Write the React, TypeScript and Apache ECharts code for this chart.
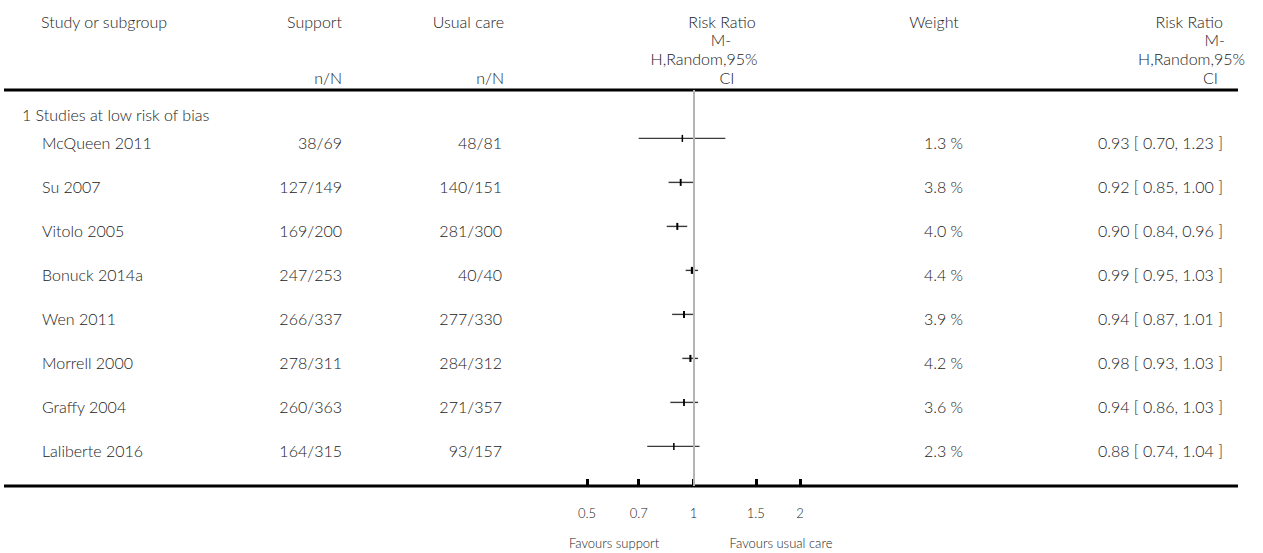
import React, { useEffect, useRef } from "react";
import * as echarts from "echarts";

const studies = ["McQueen 2011", "Su 2007", "Vitolo 2005", "Bonuck 2014a", "Wen 2011", "Morrell 2000", "Graffy 2004", "Laliberte 2016"];
const supportNN = ["38/69", "127/149", "169/200", "247/253", "266/337", "278/311", "260/363", "164/315"];
const usualNN = ["48/81", "140/151", "281/300", "40/40", "277/330", "284/312", "271/357", "93/157"];
const riskRatio = [0.93, 0.92, 0.90, 0.99, 0.94, 0.98, 0.94, 0.88];
const ciLow = [0.70, 0.85, 0.84, 0.95, 0.87, 0.93, 0.86, 0.74];
const ciHigh = [1.23, 1.00, 0.96, 1.03, 1.01, 1.03, 1.03, 1.04];
const weights = [1.3, 3.8, 4.0, 4.4, 3.9, 4.2, 3.6, 2.3];
const tickValues = [0.5, 0.7, 1, 1.5, 2];
const groupLabel = "1 Studies at low risk of bias";
const favoursLeft = "Favours support";
const favoursRight = "Favours usual care";

const FONT = "Lato";
const TXT = "#222222";

export default function App() {
  const ref = useRef<HTMLDivElement>(null);
  useEffect(() => {
    const chart = echarts.init(ref.current!, null, { renderer: "svg" });
    const t = (text: string, x: number, y: number, align: string, size = 16) => ({
      type: "text",
      x,
      y,
      style: { text, fill: TXT, font: `300 ${size}px ${FONT}`, textAlign: align, textVerticalAlign: "middle" },
    });
    const rowData = studies.map((_, i) => [riskRatio[i], i, ciLow[i], ciHigh[i]]);
    const option: any = {
      animation: false,
      backgroundColor: "#ffffff",
      grid: { left: 587, right: 463, top: 90, bottom: 67 },
      xAxis: {
        type: "log",
        logBase: 10,
        min: 0.5,
        max: 2,
        position: "bottom",
        axisLine: { show: false, onZero: false },
        splitLine: { show: false },
        axisTick: {
          show: true,
          inside: true,
          length: 7,
          lineStyle: { color: "#000", width: 3 },
          customValues: tickValues,
        },
        axisLabel: {
          show: true,
          margin: 20,
          fontSize: 13,
          fontWeight: 300,
          fontFamily: FONT,
          color: TXT,
          customValues: tickValues,
          formatter: (v: number) => String(+Number(v).toPrecision(3)),
        },
      },
      yAxis: { type: "value", inverse: true, min: -1.1, max: 7.9, show: false },
      graphic: [
        { type: "line", shape: { x1: 4, y1: 90, x2: 1238, y2: 90 }, style: { stroke: "#000", lineWidth: 3 } },
        { type: "line", shape: { x1: 4, y1: 486, x2: 1238, y2: 486 }, style: { stroke: "#000", lineWidth: 3 } },
        t("Study or subgroup", 41, 21, "left"),
        t("Support", 342, 21, "right"),
        t("n/N", 342, 77, "right"),
        t("Usual care", 504, 21, "right"),
        t("n/N", 504, 77, "right"),
        t("Risk Ratio", 722, 21, "center"),
        t("M-", 721, 39, "center"),
        t("H,Random,95%", 704, 58, "center"),
        t("CI", 727, 77, "center"),
        t("Weight", 934, 21, "center"),
        t("Risk Ratio", 1223, 21, "right"),
        t("M-", 1225, 39, "right"),
        t("H,Random,95%", 1245, 58, "right"),
        t("CI", 1218, 77, "right"),
        t(groupLabel, 22, 114, "left"),
        t(favoursLeft, 614, 543, "center", 13),
        t(favoursRight, 781, 543, "center", 13),
      ],
      series: [
        {
          type: "custom",
          name: "ci",
          coordinateSystem: "cartesian2d",
          data: rowData,
          encode: { x: [0, 2, 3], y: 1 },
          clip: false,
          markLine: {
            silent: true,
            symbol: ["none", "none"],
            label: { show: false },
            lineStyle: { color: "#b4b4b4", width: 2, type: "solid" },
            data: [{ xAxis: 1 }],
          },
          renderItem: (params: any, api: any) => {
            const i = params.dataIndex;
            const y = api.value(1);
            const pLo = api.coord([api.value(2), y]);
            const pHi = api.coord([api.value(3), y]);
            const p = api.coord([api.value(0), y]);
            const w = Math.max(1.5, weights[i] * 0.5);
            return {
              type: "group",
              children: [
                { type: "line", shape: { x1: pLo[0], y1: pLo[1], x2: pHi[0], y2: pHi[1] }, style: { stroke: "#3a3a3a", lineWidth: 1.4 } },
                { type: "rect", shape: { x: p[0] - w / 2, y: p[1] - 3.5, width: w, height: 7 }, style: { fill: "#000" } },
              ],
            };
          },
        },
        {
          type: "custom",
          name: "table",
          coordinateSystem: "cartesian2d",
          data: studies.map((_, i) => [1, i]),
          encode: { x: 0, y: 1 },
          clip: false,
          renderItem: (params: any, api: any) => {
            const i = params.dataIndex;
            const yy = api.coord([1, api.value(1)])[1] + 4;
            const mk = (text: string, x: number, align: string) => ({
              type: "text",
              x,
              y: yy,
              style: { text, fill: TXT, font: `300 16px ${FONT}`, textAlign: align, textVerticalAlign: "middle" },
            });
            return {
              type: "group",
              children: [
                mk(studies[i], 42, "left"),
                mk(supportNN[i], 342, "right"),
                mk(usualNN[i], 502, "right"),
                mk(`${weights[i].toFixed(1)} %`, 963, "right"),
                mk(`${riskRatio[i].toFixed(2)} [ ${ciLow[i].toFixed(2)}, ${ciHigh[i].toFixed(2)} ]`, 1223, "right"),
              ],
            };
          },
        },
      ],
    };
    chart.setOption(option);
    return () => chart.dispose();
  }, []);
  return <div ref={ref} style={{ position: "absolute", left: 0, top: 0, width: 1263, height: 553 }} />;
}
